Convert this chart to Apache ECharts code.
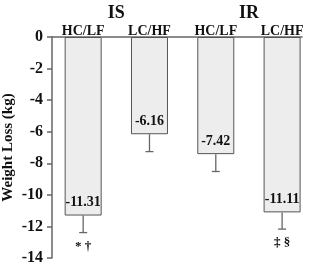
<!DOCTYPE html>
<html><head><meta charset="utf-8">
<script src="https://cdn.jsdelivr.net/npm/echarts@6/dist/echarts.min.js"></script>
<style>html,body{margin:0;padding:0;background:#fff}#c{width:312px;height:272px}</style>
</head><body><div id="c"></div>
<script>
const categories = ["HC/LF", "LC/HF", "HC/LF", "LC/HF"];
const groups = ["IS", "IR"];
const groupPos = [0.5, 2.5];
const values = [-11.31, -6.16, -7.42, -11.11];
const errors = [1.08, 1.10, 1.10, 1.06];
const markers = ["* \u2020", "", "", "\u2021 \u00a7"];
const yTicks = [0, -2, -4, -6, -8, -10, -12, -14];

const F = '"Liberation Serif", "DejaVu Serif", serif';
const chart = echarts.init(document.getElementById('c'));
const idx = categories.map((_, i) => i);

chart.setOption({
  animation: false,
  grid: {left: 52, right: 10, top: 37, bottom: 14, containLabel: false, outerBoundsMode: 'none'},
  xAxis: [{
    type: 'value', position: 'top', min: -0.47, max: 3.3,
    axisLine: {show: true, onZero: false, lineStyle: {color: '#666', width: 1.5}},
    axisTick: {show: false}, splitLine: {show: false},
    axisLabel: {customValues: idx, formatter: v => categories[Math.round(v)],
      fontFamily: F, fontWeight: 'bold', fontSize: 14, color: '#111', margin: -1}
  }, {
    type: 'value', position: 'top', min: -0.47, max: 3.3, offset: 13,
    axisLine: {show: false}, axisTick: {show: false}, splitLine: {show: false},
    axisLabel: {customValues: groupPos, formatter: v => groups[groupPos.indexOf(v)],
      fontFamily: F, fontWeight: 'bold', fontSize: 18, color: '#111', margin: 2}
  }],
  yAxis: {
    type: 'value', min: -14, max: 0, interval: 2,
    name: 'Weight Loss (kg)', nameLocation: 'middle', nameGap: 36, nameMoveOverlap: false,
    nameTextStyle: {fontFamily: F, fontWeight: 'bold', fontSize: 15, color: '#111'},
    axisLine: {show: true, onZero: false, lineStyle: {color: '#666', width: 1.5}},
    axisTick: {show: true, length: 5, lineStyle: {color: '#666', width: 1.5}},
    splitLine: {show: false},
    axisLabel: {fontFamily: F, fontWeight: 'bold', fontSize: 16, color: '#111', margin: 9,
      formatter: v => String(yTicks[yTicks.indexOf(v)])}
  },
  series: [{
    type: 'bar', barWidth: 37,
    data: values.map((v, i) => [i, v]),
    itemStyle: {color: '#ededed', borderColor: '#555', borderWidth: 1},
    label: {show: true, position: 'insideBottom', distance: 6,
      formatter: p => values[p.dataIndex].toFixed(2),
      fontFamily: F, fontWeight: 'bold', fontSize: 14, color: '#111'}
  }, {
    type: 'custom',
    data: values.map((v, i) => [i, v, v - errors[i]]),
    renderItem: (params, api) => {
      const top = api.coord([api.value(0), api.value(1)]);
      const bot = api.coord([api.value(0), api.value(2)]);
      const c = {stroke: '#666', lineWidth: 1.3};
      const m = markers[params.dataIndex];
      const kids = [
        {type: 'line', shape: {x1: top[0], y1: top[1], x2: bot[0], y2: bot[1]}, style: c},
        {type: 'line', shape: {x1: bot[0] - 4, y1: bot[1], x2: bot[0] + 4, y2: bot[1]}, style: c}
      ];
      if (m) kids.push({type: 'text', x: bot[0], y: bot[1] + 14,
        style: {text: m, fontFamily: F, fontWeight: 'bold', fontSize: 13, fill: '#111',
          align: 'center', verticalAlign: 'middle'}});
      return {type: 'group', children: kids};
    }
  }]
});
</script></body></html>
